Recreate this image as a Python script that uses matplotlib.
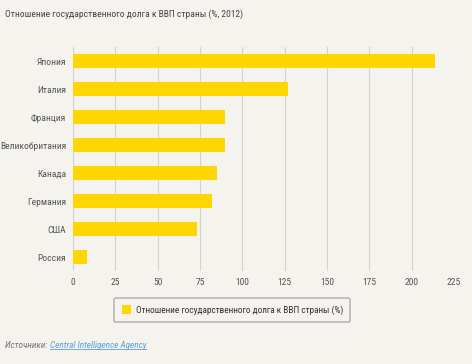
import matplotlib
matplotlib.use("Agg")
import matplotlib.pyplot as plt
from matplotlib import font_manager

countries = ["Япония", "Италия", "Франция", "Великобритания", "Канада", "Германия", "США", "Россия"]
values = [214, 127, 90, 90, 85, 82, 73, 8]
xticks = [0, 25, 50, 75, 100, 125, 150, 175, 200, 225]

BG = "#f5f3ee"
BAR = "#ffd600"
TXT = "#555555"

names = {f.name for f in font_manager.fontManager.ttflist}
FONT = "DejaVu Sans"
for cand in ["Roboto Condensed", "PT Sans Narrow", "Sofia Sans Semi Condensed", "Liberation Sans Narrow"]:
    if cand in names:
        FONT = cand
        break
plt.rcParams["font.family"] = [FONT, "DejaVu Sans"]

fig = plt.figure(figsize=(4.72, 3.64), dpi=100, facecolor=BG)
ax = fig.add_axes([0.1547, 0.2555, 0.807, 0.615], facecolor=BG)

y = list(range(len(countries)))
ax.barh(y, values, height=0.49, color=BAR, zorder=3)
ax.set_ylim(len(countries) - 0.5, -0.5)
ax.set_xlim(0, 225)
ax.set_xticks(xticks)
ax.set_xticklabels([str(t) for t in xticks])
ax.set_yticks(y)
ax.set_yticklabels(countries)
ax.tick_params(axis="both", length=0, labelsize=6.8, colors=TXT)
ax.tick_params(axis="x", pad=5)
ax.tick_params(axis="y", pad=5)
ax.grid(axis="x", color="#d4d2cc", linewidth=0.8, zorder=0)
for s in ax.spines.values():
    s.set_visible(False)

fig.text(0.011, 0.962, "Отношение государственного долга к ВВП страны (%, 2012)",
         fontsize=6.8, color="#444444", ha="left", va="center")

leg = ax.legend(["Отношение государственного долга к ВВП страны (%)"],
                loc="center", bbox_to_anchor=(0.492, 0.148), bbox_transform=fig.transFigure,
                fontsize=6.7, frameon=True, fancybox=True, handlelength=1.0, handleheight=1.0,
                borderpad=0.8, handletextpad=0.5)
leg.get_frame().set_facecolor(BG)
leg.get_frame().set_edgecolor("#aaaaaa")
leg.get_frame().set_linewidth(1.2)
for t in leg.get_texts():
    t.set_color("#333333")

src = fig.text(0.011, 0.052, "Источники: ", fontsize=6.7, color="#777777", style="italic",
               ha="left", va="center")
fig.canvas.draw()
bb = src.get_window_extent().transformed(fig.transFigure.inverted())
link = fig.text(bb.x1, 0.052, "Central Intelligence Agency", fontsize=6.7, color="#5a9fd4",
                style="italic", ha="left", va="center")
fig.canvas.draw()
lb = link.get_window_extent().transformed(fig.transFigure.inverted())
fig.add_artist(plt.Line2D([lb.x0, lb.x1], [lb.y0 + 0.002, lb.y0 + 0.002], color="#5a9fd4", linewidth=0.6))

fig.savefig("out.png", dpi=100, facecolor=BG)
